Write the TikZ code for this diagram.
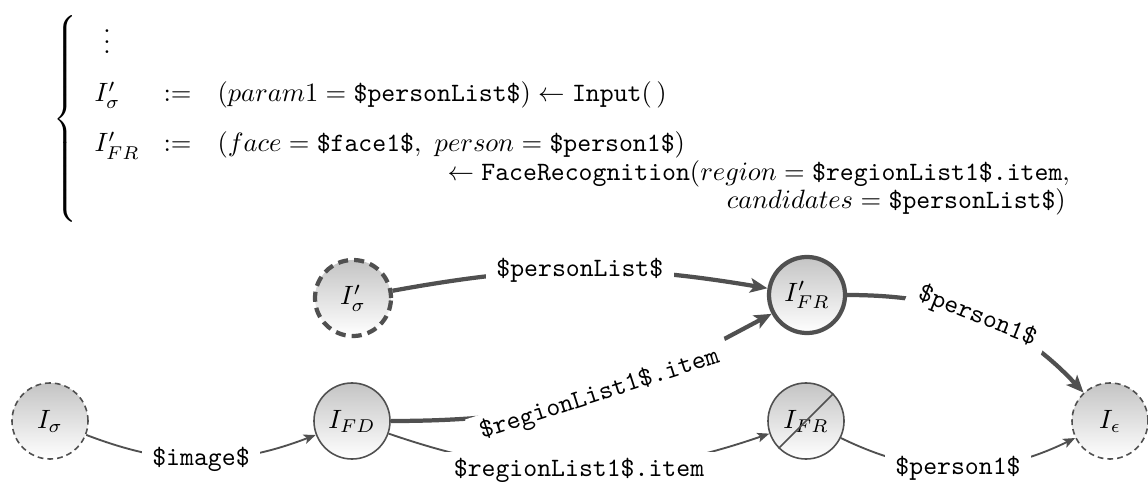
\documentclass[tikz,border=0pt]{standalone}
\usepackage{amsmath}
\usetikzlibrary{arrows.meta,calc}
\definecolor{edgecol}{RGB}{80,80,80}
\definecolor{nodetop}{RGB}{196,196,196}
\begin{document}
\begin{tikzpicture}[x=0.3775pt,y=0.3775pt,
  gnode/.style={circle, minimum size=28.7pt, inner sep=0pt, top color=nodetop, bottom color=white, draw=edgecol, line width=0.6pt},
  thickn/.style={line width=1.6pt},
  thindash/.style={dash pattern=on 2.2pt off 1.5pt},
  thickdash/.style={dash pattern=on 3.8pt off 2.3pt},
  thinedge/.style={draw=edgecol, line width=0.7pt, -{Stealth[length=4.5pt,width=3.6pt,inset=1pt]}},
  thickedge/.style={draw=edgecol, line width=1.6pt, -{Stealth[length=6.5pt,width=5.5pt,inset=1.5pt]}},
  lbl/.style={fill=white, inner xsep=4pt, inner ysep=2pt, font=\ttfamily},
  txt/.style={anchor=base west, inner sep=0pt},
]
\useasboundingbox (0,0) rectangle (1148,481);
% definition block
\node[inner sep=0pt] (brace) at (67,362) {$\left\{\vcenter{\hbox{\rule{0pt}{78.9pt}}}\right.$};
\node[anchor=base, inner sep=0pt] (dots) at (107,427) {$\vdots$};
\node[txt] (l1) at (94,379) {$I'_{\sigma}$};
\node[txt] (a1) at (163,379) {$:=$};
\node[txt] (r1) at (217,379) {$(param1 = \texttt{\$personList\$}) \leftarrow \texttt{Input}(\,)$};
\node[txt] (l2) at (94,329) {$I'_{FR}$};
\node[txt] (a2) at (163,329) {$:=$};
\node[txt] (r2) at (217,329) {$(face = \texttt{\$face1\$},\ person = \texttt{\$person1\$})$};
\node[txt] (r3) at (447,300) {$\leftarrow \texttt{FaceRecognition}(region = \texttt{\$regionList1\$.item},$};
\node[anchor=base east, inner sep=0pt] (r4) at ($(r3.base east)+(-4,-28)$) {$candidates = \texttt{\$personList\$})$};
% graph nodes
\node[gnode, thickn, thickdash] (isp) at (353,183) {$I'_{\sigma}$};
\node[gnode, thickn] (ifrp) at (807,186) {$I'_{FR}$};
\node[gnode, thindash] (is) at (50,60) {$I_{\sigma}$};
\node[gnode] (ifd) at (352,60) {$I_{FD}$};
\node[gnode] (ifr) at (806,60) {$I_{FR}$};
\node[gnode, thindash] (ie) at (1110,60) {$I_{\epsilon}$};
\draw[draw=edgecol, line width=0.6pt] (ifr.south west) -- (ifr.north east);
% edges
\draw[thickedge] (isp) to[bend left=10] node[lbl]{\$personList\$} (ifrp);
\draw[thickedge] (ifd) to[out=0,in=208,out looseness=1.2] node[lbl,sloped]{\$regionList1\$.item} (ifrp);
\draw[thickedge] (ifrp) to[out=0,in=133] node[lbl,sloped]{\$person1\$} (ie);
\draw[thinedge] (is) to[bend right=21] node[lbl]{\$image\$} (ifd);
\draw[thinedge] (ifd) to[bend right=19] node[lbl]{\$regionList1\$.item} (ifr);
\draw[thinedge] (ifr) to[bend right=26] node[lbl]{\$person1\$} (ie);
\end{tikzpicture}
\end{document}
